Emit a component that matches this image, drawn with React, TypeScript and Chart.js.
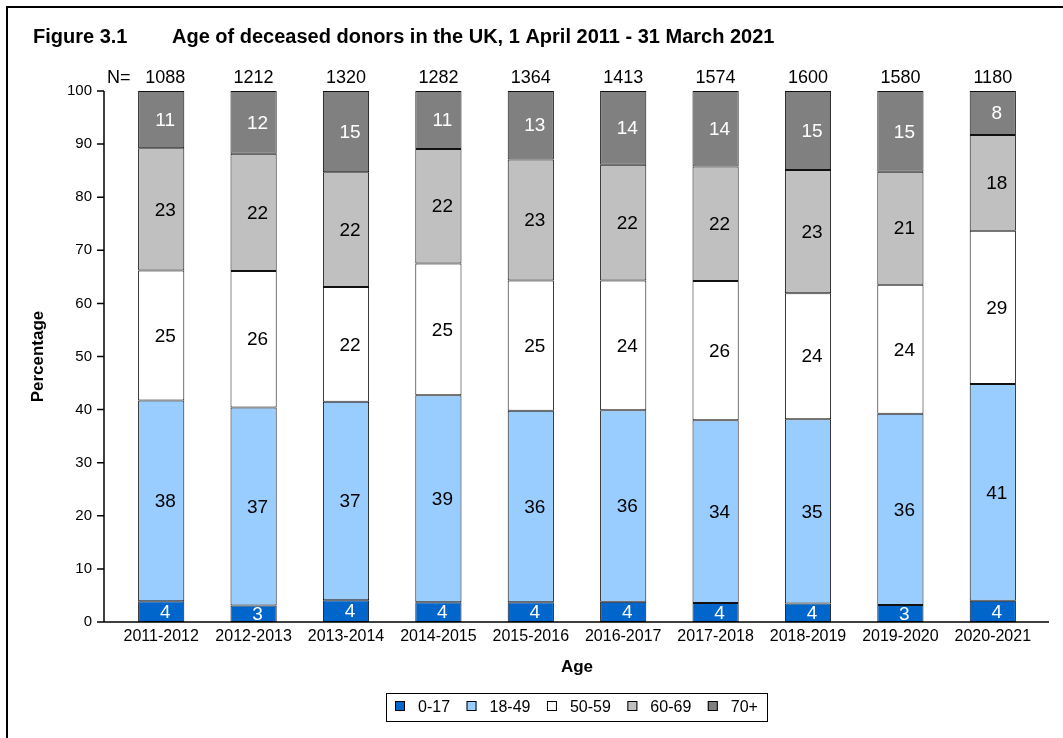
import React, { useEffect, useRef } from 'react';
import { Chart, registerables } from 'chart.js';

Chart.register(...registerables);

const FONT = '"Liberation Sans", Arial, Helvetica, sans-serif';

const titleNumber = 'Figure 3.1';
const titleText = 'Age of deceased donors in the UK, 1 April 2011 - 31 March 2021';
const xAxisTitle = 'Age';
const yAxisTitle = 'Percentage';

const categories = [
  '2011-2012', '2012-2013', '2013-2014', '2014-2015', '2015-2016',
  '2016-2017', '2017-2018', '2018-2019', '2019-2020', '2020-2021',
];
const donorCounts = [1088, 1212, 1320, 1282, 1364, 1413, 1574, 1600, 1580, 1180];

const seriesLabels = ['0-17', '18-49', '50-59', '60-69', '70+'];
const age0to17 = [3.9, 3.1, 4.1, 3.7, 3.7, 3.8, 3.6, 3.5, 3.2, 4.0];
const age18to49 = [37.8, 37.3, 37.4, 39.0, 36.1, 36.1, 34.4, 34.7, 36.0, 40.8];
const age50to59 = [24.5, 25.7, 21.6, 24.8, 24.5, 24.4, 26.2, 23.7, 24.3, 28.9];
const age60to69 = [23.0, 22.1, 21.6, 21.6, 22.8, 21.8, 21.6, 23.2, 21.3, 18.0];
const age70plus = [10.8, 11.8, 15.3, 10.9, 12.9, 13.9, 14.2, 14.9, 15.2, 8.3];

const yTicks = [0, 10, 20, 30, 40, 50, 60, 70, 80, 90, 100];

const seriesColors = ['#0066CC', '#99CCFF', '#FFFFFF', '#C0C0C0', '#808080'];
const labelColors = ['#FFFFFF', '#000000', '#000000', '#000000', '#FFFFFF'];

const decorPlugin = {
  id: 'decor',
  afterDatasetsDraw(chart: any) {
    const ctx = chart.ctx;
    ctx.save();
    ctx.font = `19px ${FONT}`;
    ctx.textAlign = 'center';
    ctx.textBaseline = 'middle';
    chart.data.datasets.forEach((ds: any, di: number) => {
      const meta = chart.getDatasetMeta(di);
      meta.data.forEach((bar: any, i: number) => {
        const v = ds.data[i] as number;
        const p = bar.getProps(['x', 'y', 'base'], true);
        ctx.fillStyle = labelColors[di];
        ctx.fillText(String(Math.round(v)), p.x + 4, (p.y + p.base) / 2 + 1);
      });
    });
    ctx.restore();
  },
  afterDraw(chart: any) {
    const ctx = chart.ctx;
    const area = chart.chartArea;
    const yScale = chart.scales.y;
    ctx.save();

    // frame
    ctx.fillStyle = '#000';
    ctx.fillRect(6, 6, 2, chart.height);
    ctx.fillRect(6, 6, chart.width, 2);

    // title
    ctx.font = `bold 20px ${FONT}`;
    ctx.textAlign = 'left';
    ctx.textBaseline = 'alphabetic';
    ctx.fillText(titleNumber, 33, 43);
    ctx.fillText(titleText, 172, 43);

    // axis lines
    const axisX = area.left - 11;
    ctx.strokeStyle = '#000';
    ctx.lineWidth = 1.5;
    ctx.beginPath();
    ctx.moveTo(axisX, area.top);
    ctx.lineTo(axisX, area.bottom);
    ctx.moveTo(axisX, area.bottom);
    ctx.lineTo(area.right + 10, area.bottom);
    yTicks.forEach((t) => {
      const py = yScale.getPixelForValue(t);
      ctx.moveTo(axisX - 7, py);
      ctx.lineTo(axisX, py);
    });
    ctx.stroke();

    // N labels
    ctx.font = `18px ${FONT}`;
    ctx.textBaseline = 'middle';
    ctx.textAlign = 'left';
    ctx.fillStyle = '#000';
    ctx.fillText('N=', 107, 78);
    ctx.textAlign = 'center';
    const meta0 = chart.getDatasetMeta(0);
    meta0.data.forEach((bar: any, i: number) => {
      const x = bar.getProps(['x'], true).x + (i === 0 ? 4 : 0);
      ctx.fillText(String(donorCounts[i]), x, 78);
    });

    // axis titles
    ctx.font = `bold 17px ${FONT}`;
    ctx.textAlign = 'center';
    ctx.textBaseline = 'alphabetic';
    ctx.fillText(xAxisTitle, (area.left + area.right) / 2, 672);
    ctx.save();
    ctx.translate(38, (area.top + area.bottom) / 2);
    ctx.rotate(-Math.PI / 2);
    ctx.font = `bold 17px ${FONT}`;
    ctx.textBaseline = 'middle';
    ctx.fillText(yAxisTitle, 0, 0);
    ctx.restore();

    // legend
    ctx.font = `16px ${FONT}`;
    const items = chart.data.datasets.map((ds: any) => ({ text: ds.label, color: ds.backgroundColor }));
    const box = 10, gapBT = 13, gapItems = 16.5, padL = 9, padR = 9.5;
    let w = padL + padR;
    items.forEach((it: any, k: number) => {
      w += box + gapBT + ctx.measureText(it.text).width + (k < items.length - 1 ? gapItems : 0);
    });
    const cx = (area.left + area.right) / 2;
    let x = Math.round(cx - w / 2);
    const top = 693, h = 28;
    ctx.lineWidth = 1;
    ctx.strokeStyle = '#000';
    ctx.strokeRect(x + 0.5, top + 0.5, Math.round(w), h);
    x += padL;
    ctx.textAlign = 'left';
    ctx.textBaseline = 'middle';
    items.forEach((it: any) => {
      ctx.fillStyle = it.color;
      ctx.fillRect(x, 701, box, box);
      ctx.strokeStyle = '#000';
      ctx.strokeRect(x + 0.5, 701.5, box - 1, box - 1);
      x += box + gapBT;
      ctx.fillStyle = '#000';
      ctx.fillText(it.text, x, 707.5);
      x += ctx.measureText(it.text).width + gapItems;
    });

    ctx.restore();
  },
};

export default function App() {
  const ref = useRef<HTMLCanvasElement>(null);
  useEffect(() => {
    if (!ref.current) return;
    Chart.defaults.font.family = FONT;
    Chart.defaults.color = '#000';
    const seriesData = [age0to17, age18to49, age50to59, age60to69, age70plus];
    const chart = new Chart(ref.current, {
      type: 'bar',
      data: {
        labels: categories,
        datasets: seriesLabels.map((label, i) => ({
          label,
          data: seriesData[i],
          backgroundColor: seriesColors[i],
          borderColor: '#111111',
          borderWidth: 1,
          borderSkipped: false,
          barPercentage: 0.5,
          categoryPercentage: 1,
        })),
      },
      options: {
        responsive: false,
        animation: false,
        devicePixelRatio: 1,
        layout: { padding: { top: 91, right: 24, left: 0, bottom: 0 } },
        plugins: {
          legend: { display: false },
          title: { display: false },
          tooltip: { enabled: false },
        },
        scales: {
          x: {
            stacked: true,
            grid: { display: false, drawTicks: false },
            border: { display: false },
            ticks: { font: { size: 16 }, color: '#000', padding: 5, maxRotation: 0, autoSkip: false },
            afterFit: (s: any) => { s.height = 116; },
          },
          y: {
            stacked: true,
            min: 0,
            max: 100,
            grid: { display: false, drawTicks: false },
            border: { display: false },
            ticks: { stepSize: 10, font: { size: 15 }, color: '#000', padding: 23 },
            afterFit: (s: any) => { s.width = 115; },
          },
        },
      },
      plugins: [decorPlugin],
    });
    return () => chart.destroy();
  }, []);
  return (
    <div style={{ position: 'fixed', left: 0, top: 0, width: 1063, height: 738, background: '#fff' }}>
      <canvas ref={ref} width={1063} height={738} style={{ display: 'block', width: 1063, height: 738 }} />
    </div>
  );
}
